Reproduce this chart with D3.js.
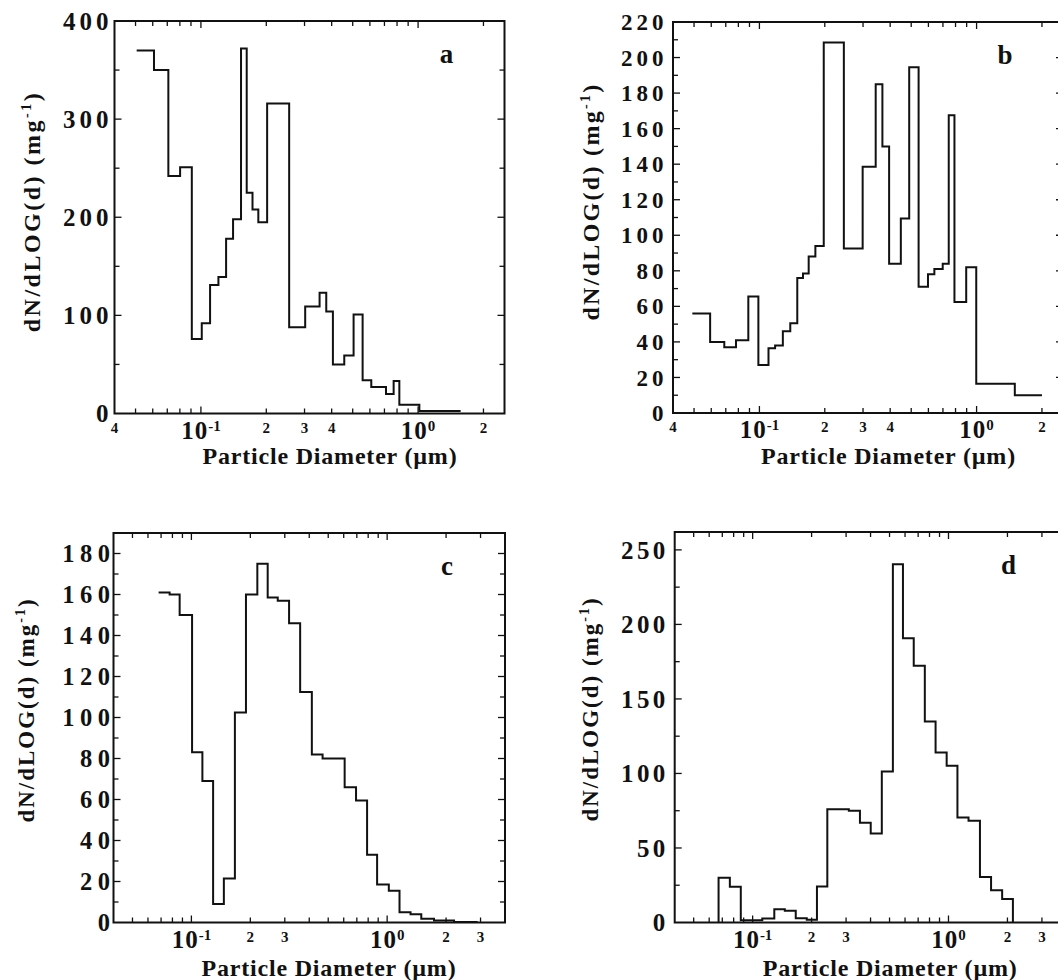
<!DOCTYPE html>
<html>
<head>
<meta charset="utf-8">
<script src="https://cdn.jsdelivr.net/npm/d3@7"></script>
<style>
  html, body { margin: 0; padding: 0; background: #fff; }
  svg { display: block; }
  text { font-family: "Liberation Serif", "Times New Roman", "DejaVu Serif", serif; font-weight: bold; fill: #111; }
</style>
</head>
<body>
<svg id="chart" width="1058" height="980"></svg>
<script>
// ---- Size distributions: bin edges (µm) and dN/dLOG(d) per bin (mg^-1) ----
const aEdges = [0.0506, 0.0608, 0.0708, 0.0802, 0.0908, 0.1009, 0.1102, 0.1204, 0.1306, 0.1406,
                0.153, 0.1625, 0.1728, 0.1838, 0.2018, 0.2549, 0.3021, 0.3519, 0.3777, 0.4053,
                0.4572, 0.5047, 0.5554, 0.6088, 0.7116, 0.7717, 0.8198, 1.0135, 1.57];
const aValues = [370, 350, 242, 251, 76, 92, 131, 139, 178, 198,
                 372, 225, 208, 195, 316, 88, 109, 123, 104, 50,
                 59, 101, 34, 27, 20, 33, 9, 2.5];

const bEdges = [0.0491, 0.0593, 0.0689, 0.078, 0.0889, 0.0989, 0.1101, 0.1181, 0.1282, 0.1387,
                0.1494, 0.1587, 0.1686, 0.181, 0.1978, 0.2448, 0.2988, 0.3431, 0.3684, 0.3956,
                0.4479, 0.4895, 0.5408, 0.5973, 0.6391, 0.6983, 0.7444, 0.7908, 0.8958, 0.9965,
                1.4998, 2.0];
const bValues = [56, 40, 37, 41, 65.5, 27, 36.5, 38, 46, 50.5,
                 76, 78.5, 88, 94, 208.5, 92.5, 138.5, 185, 150, 84,
                 109.5, 194.5, 71, 78, 81, 84, 167.5, 62.5, 82, 16.5,
                 10];

const cEdges = [0.068, 0.0774, 0.0871, 0.1008, 0.1138, 0.1291, 0.1465, 0.1668, 0.19, 0.2172,
                0.2453, 0.2761, 0.3155, 0.3594, 0.4124, 0.4679, 0.6066, 0.6935, 0.7898, 0.8886,
                1.0198, 1.1566, 1.317, 1.494, 1.735, 2.197, 2.9];
const cValues = [161, 160, 150, 83, 69, 9, 21.5, 102.5, 160, 175,
                 158.5, 157, 146, 112.5, 82, 80, 66, 59.5, 33, 18.5,
                 15.5, 5, 4, 1.8, 1, 0.3];

const dEdges = [0.067, 0.0765, 0.087, 0.0985, 0.112, 0.129, 0.146, 0.166, 0.189, 0.213,
                0.2406, 0.275, 0.3099, 0.3531, 0.4008, 0.4566, 0.5201, 0.5855, 0.6646, 0.7571,
                0.8592, 0.9788, 1.1109, 1.2657, 1.4477, 1.6497, 1.8793, 2.1327];
const dValues = [30, 24, 1.5, 1.5, 2.7, 8.9, 7.8, 2.8, 1.8, 24.2,
                 76, 76, 75, 67, 59.7, 101.3, 240.4, 190.7, 172.2, 134.8,
                 114, 105.1, 70.4, 68.2, 30.6, 21.7, 15.7];

// ---- Axis tick labels ----
const abXLabelValues = [0.04, 0.1, 0.2, 0.3, 0.4, 1, 2];
const abXLabelTexts  = ["4", "10^-1", "2", "3", "4", "10^0", "2"];
const cdXLabelValues = [0.1, 0.2, 0.3, 1, 2, 3];
const cdXLabelTexts  = ["10^-1", "2", "3", "10^0", "2", "3"];

const aYLabels = [0, 100, 200, 300, 400];
const bYLabels = [0, 20, 40, 60, 80, 100, 120, 140, 160, 180, 200, 220];
const cYLabels = [0, 20, 40, 60, 80, 100, 120, 140, 160, 180];
const dYLabels = [0, 50, 100, 150, 200, 250];

const panelLetters = ["a", "b", "c", "d"];
const xTitle = "Particle Diameter (\u00b5m)";

// ---- Panel layout ----
const panels = [
  { edges: aEdges, values: aValues, letter: panelLetters[0],
    xMax: 2.5, yMax: 400, yLabels: aYLabels, yMinor: 50,
    xLabelValues: abXLabelValues, xLabelTexts: abXLabelTexts,
    box: { l: 114.5, r: 504.5, t: 21, b: 413.5 }, closed: false,
    yFont: 25, yLs: 4, yGap: 6, yTitle: { x: 31.5, y: 211.5, size: 24, ls: 2.5 },
    xTitleY: 464 },
  { edges: bEdges, values: bValues, letter: panelLetters[1],
    xMax: 2.5, yMax: 220, yLabels: bYLabels, yMinor: 10,
    xLabelValues: abXLabelValues, xLabelTexts: abXLabelTexts,
    box: { l: 673, r: 1063, t: 22, b: 413 }, closed: false,
    yFont: 23, yLs: 4, yGap: 9.5, yTitle: { x: 591, y: 201.5, size: 24, ls: 2.3 },
    xTitleY: 464 },
  { edges: cEdges, values: cValues, letter: panelLetters[2],
    xMax: 4, yMax: 190, yLabels: cYLabels, yMinor: 10,
    xLabelValues: cdXLabelValues, xLabelTexts: cdXLabelTexts,
    box: { l: 113.5, r: 505, t: 533, b: 922.5 }, closed: false,
    yFont: 24.5, yLs: 5.5, yGap: 3.5, yTitle: { x: 26, y: 710, size: 23, ls: 2 },
    xTitleY: 976 },
  { edges: dEdges, values: dValues, letter: panelLetters[3],
    xMax: 4, yMax: 262, yLabels: dYLabels, yMinor: 25,
    xLabelValues: cdXLabelValues, xLabelTexts: cdXLabelTexts,
    box: { l: 674.7, r: 1066.4, t: 532, b: 922.5 }, closed: true,
    yFont: 25, yLs: 3.3, yGap: 9.5, yTitle: { x: 590, y: 709, size: 23, ls: 2 },
    xTitleY: 976 }
];

const svg = d3.select("#chart");
const ink = "#111";

panels.forEach(p => {
  const g = svg.append("g");
  const x = d3.scaleLog().domain([0.04, p.xMax]).range([p.box.l, p.box.r]);
  const y = d3.scaleLinear().domain([0, p.yMax]).range([p.box.b, p.box.t]);

  // inward log ticks on bottom and top edges
  const xt = x.ticks().filter(v => v > 0.0401 && v < p.xMax * 0.999);
  const isDecade = v => Math.abs(Math.log10(v) - Math.round(Math.log10(v))) < 1e-6;
  g.selectAll(".xtick").data(xt).join("line")
    .attr("x1", d => x(d)).attr("x2", d => x(d))
    .attr("y1", p.box.b).attr("y2", d => p.box.b - (isDecade(d) ? 7 : 5))
    .attr("stroke", ink).attr("stroke-width", 1.3);
  g.selectAll(".xtickTop").data(xt).join("line")
    .attr("x1", d => x(d)).attr("x2", d => x(d))
    .attr("y1", p.box.t).attr("y2", d => p.box.t + (isDecade(d) ? 7 : 5))
    .attr("stroke", ink).attr("stroke-width", 1.3);

  // inward linear ticks on left and right edges
  const yt = d3.range(p.yMinor, p.yMax, p.yMinor).filter(v => v < p.yMax - 1e-6);
  const isMajor = v => p.yLabels.includes(v);
  [[p.box.l, 1], [p.box.r, -1]].forEach(([x0, s]) => {
    g.append("g").selectAll("line").data(yt).join("line")
      .attr("x1", x0).attr("x2", d => x0 + s * (isMajor(d) ? 7 : 5))
      .attr("y1", d => y(d)).attr("y2", d => y(d))
      .attr("stroke", ink).attr("stroke-width", 1.3);
  });

  // frame
  g.append("rect")
    .attr("x", p.box.l).attr("y", p.box.t)
    .attr("width", p.box.r - p.box.l).attr("height", p.box.b - p.box.t)
    .attr("fill", "none").attr("stroke", ink).attr("stroke-width", 2);

  // histogram outline
  let pts = p.edges.map((e, i) => [e, p.values[Math.min(i, p.values.length - 1)]]);
  if (p.closed) {
    pts = [[p.edges[0], 0], ...pts, [p.edges[p.edges.length - 1], 0]];
  }
  const line = d3.line().x(d => x(d[0])).y(d => y(d[1])).curve(d3.curveStepAfter);
  g.append("path").attr("d", line(pts))
    .attr("fill", "none").attr("stroke", ink).attr("stroke-width", 2)
    .attr("stroke-linejoin", "miter");

  // y tick labels (trailing letter-spacing compensated)
  g.selectAll(".ylab").data(p.yLabels).join("text")
    .attr("x", p.box.l - p.yGap + p.yLs).attr("y", d => y(d))
    .attr("dy", "0.35em").attr("text-anchor", "end")
    .attr("font-size", p.yFont).attr("letter-spacing", p.yLs)
    .text(d => d);

  // x tick labels (decades with superscript exponents)
  p.xLabelValues.forEach((v, i) => {
    const txt = p.xLabelTexts[i];
    const t = g.append("text").attr("x", x(v)).attr("text-anchor", "middle");
    if (txt.includes("^")) {
      const [base, sup] = txt.split("^");
      t.attr("y", p.box.b + 25);
      t.append("tspan").attr("font-size", 25).attr("letter-spacing", 1).text(base);
      t.append("tspan").attr("font-size", 15).attr("dy", -8).text(sup);
    } else {
      t.attr("y", p.box.b + 19).attr("font-size", 15).text(txt);
    }
  });

  // x axis title
  g.append("text").attr("x", p.box.l + 215.5).attr("y", p.xTitleY)
    .attr("text-anchor", "middle").attr("font-size", 24)
    .attr("letter-spacing", 0.8).text(xTitle);

  // y axis title with superscript unit
  const yt2 = g.append("text")
    .attr("transform", `translate(${p.yTitle.x},${p.yTitle.y}) rotate(-90)`)
    .attr("text-anchor", "middle").attr("dy", "0.35em")
    .attr("font-size", p.yTitle.size).attr("letter-spacing", p.yTitle.ls);
  yt2.append("tspan").text("dN/dLOG(d) (mg");
  yt2.append("tspan").attr("font-size", 14).attr("dy", -9).text("-1");
  yt2.append("tspan").attr("dy", 9).text(")");

  // panel letter
  g.append("text").attr("x", p.box.r - 58).attr("y", p.box.t + 42)
    .attr("text-anchor", "middle").attr("font-size", 27).text(p.letter);
});
</script>
</body>
</html>
